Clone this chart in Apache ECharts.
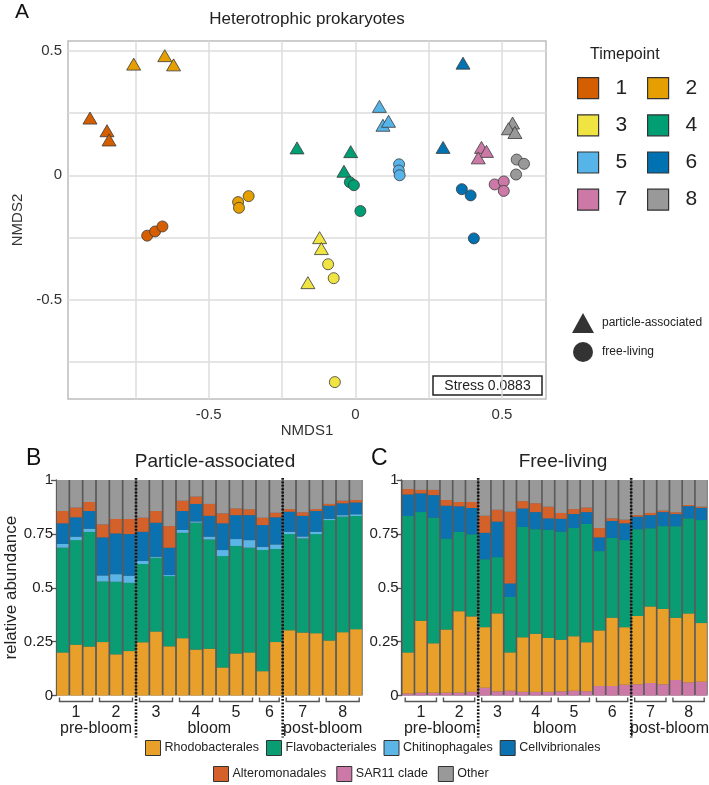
<!DOCTYPE html>
<html><head><meta charset="utf-8">
<script src="https://cdn.jsdelivr.net/npm/echarts@6/dist/echarts.min.js"></script>
<style>html,body{margin:0;padding:0;background:#fff}#c{width:709px;height:785px}</style>
</head><body><div id="c"></div>
<script>
const FONT = 'Liberation Sans, Arial, sans-serif';

// ---------- Panel A: NMDS ordination ----------
const timepoints = ['1','2','3','4','5','6','7','8'];
const tpColors = ['#D55E00','#E69F00','#F0E442','#009E73','#56B4E9','#0072B2','#CC79A7','#999999'];
const paTime = [1,1,1,2,2,2,3,3,3,4,4,4,5,5,5,6,6,7,7,7,8,8,8];
const paX = [-0.905,-0.847,-0.840, -0.650,-0.756,-0.620, -0.122,-0.116,-0.162, -0.199,-0.016,-0.039, 0.082,0.094,0.113, 0.367,0.299, 0.430,0.447,0.419, 0.536,0.522,0.544];
const paY = [0.230,0.179,0.142, 0.481,0.447,0.444, -0.251,-0.295,-0.432, 0.110,0.095,0.016, 0.277,0.201,0.217, 0.451,0.112, 0.112,0.096,0.070, 0.210,0.187,0.172];
const flTime = [1,1,1,2,2,2,3,3,3,4,4,4,5,5,5,6,6,6,7,7,7,8,8,8];
const flX = [-0.710,-0.683,-0.658, -0.364,-0.400,-0.397, -0.093,-0.074,-0.070, -0.019,-0.005,0.017, 0.149,0.148,0.151, 0.363,0.393,0.404, 0.475,0.506,0.506, 0.550,0.575,0.548];
const flY = [-0.243,-0.226,-0.206, -0.084,-0.108,-0.131, -0.358,-0.414,-0.832, -0.028,-0.040,-0.144, 0.044,0.019,0.000, -0.056,-0.081,-0.254, -0.037,-0.025,-0.063, 0.063,0.046,0.003];
const nmdsTicks = [-0.75,-0.5,-0.25,0,0.25,0.5];
const nmdsLabels = [-0.5,0,0.5];
const stressText = 'Stress 0.0883';

// ---------- Panels B, C: relative abundance ----------
const taxa = ['Rhodobacterales','Flavobacteriales','Chitinophagales','Cellvibrionales','Alteromonadales','SAR11 clade','Other'];
const taxaColors = ['#E8A02A','#0A9C72','#5BB5E6','#0B71B0','#D5612A','#CC79A7','#999999'];
const phases = ['pre-bloom','bloom','post-bloom'];
const phaseFirstGroup = [0,2,6];
const phaseLastGroup = [1,5,7];

const paSamples = ['1a','1b','1c','2a','2b','2c','3a','3b','3c','4a','4b','4c','5a','5b','5c','6a','6b','7a','7b','7c','8a','8b','8c'];
const paGroupSizes = [3,3,3,3,3,2,3,3];
const paRhodo   = [0.200,0.236,0.227,0.248,0.191,0.206,0.247,0.297,0.228,0.266,0.213,0.217,0.130,0.195,0.200,0.113,0.248,0.303,0.292,0.289,0.255,0.294,0.308];
const paFlavo   = [0.486,0.485,0.532,0.281,0.337,0.317,0.363,0.342,0.326,0.489,0.589,0.507,0.517,0.499,0.486,0.562,0.432,0.446,0.437,0.460,0.559,0.536,0.525];
const paChitino = [0.017,0.016,0.015,0.028,0.035,0.033,0.014,0.005,0.005,0.013,0.006,0.013,0.028,0.032,0.035,0.015,0.021,0.011,0.009,0.011,0.006,0.007,0.008];
const paCellvib = [0.096,0.090,0.082,0.177,0.189,0.193,0.136,0.158,0.127,0.088,0.081,0.097,0.124,0.111,0.116,0.101,0.126,0.093,0.096,0.096,0.061,0.055,0.055];
const paAltero  = [0.057,0.045,0.042,0.060,0.067,0.070,0.065,0.054,0.100,0.048,0.034,0.055,0.046,0.031,0.027,0.034,0.021,0.012,0.016,0.009,0.008,0.012,0.011];
const paOther   = [0.144,0.128,0.102,0.206,0.181,0.181,0.175,0.144,0.214,0.096,0.077,0.111,0.155,0.132,0.136,0.175,0.152,0.135,0.150,0.135,0.111,0.096,0.093];

const flSamples = ['1a','1b','1c','2a','2b','2c','3a','3b','3c','4a','4b','4c','5a','5b','5c','6a','6b','6c','7a','7b','7c','8a','8b','8c'];
const flGroupSizes = [3,3,3,3,3,3,3,3];
const flSar11   = [0.009,0.013,0.013,0.013,0.013,0.017,0.036,0.019,0.022,0.017,0.017,0.017,0.019,0.022,0.020,0.044,0.044,0.050,0.052,0.058,0.052,0.072,0.061,0.064];
const flRhodo   = [0.191,0.334,0.229,0.293,0.378,0.350,0.281,0.362,0.178,0.253,0.269,0.250,0.240,0.253,0.227,0.258,0.317,0.267,0.317,0.355,0.350,0.289,0.320,0.272];
const flFlavo   = [0.633,0.504,0.583,0.422,0.368,0.381,0.315,0.261,0.257,0.512,0.486,0.502,0.501,0.502,0.549,0.368,0.370,0.404,0.403,0.363,0.384,0.424,0.441,0.478];
const flCellvib = [0.100,0.087,0.105,0.153,0.119,0.122,0.123,0.165,0.063,0.086,0.079,0.053,0.060,0.065,0.055,0.064,0.079,0.078,0.058,0.061,0.065,0.057,0.057,0.057];
const flAltero  = [0.025,0.016,0.024,0.026,0.020,0.028,0.079,0.055,0.333,0.034,0.041,0.054,0.027,0.023,0.021,0.043,0.012,0.017,0.007,0.010,0.007,0.008,0.005,0.005];
const flOther   = [0.042,0.046,0.046,0.093,0.102,0.102,0.166,0.138,0.147,0.098,0.108,0.124,0.153,0.135,0.128,0.223,0.178,0.184,0.163,0.153,0.142,0.150,0.116,0.124];

// ---------- build ----------
const chart = echarts.init(document.getElementById('c'), null, {renderer:'canvas'});

const scatterSeries = timepoints.map((tp, i) => {
  const t = i + 1;
  const data = [];
  paTime.forEach((v, k) => { if (v === t) data.push({value:[paX[k], paY[k]], symbol:'triangle', symbolSize:[14,12]}); });
  flTime.forEach((v, k) => { if (v === t) data.push({value:[flX[k], flY[k]], symbol:'circle', symbolSize:11}); });
  return {
    name: tp, type:'scatter', xAxisIndex:0, yAxisIndex:0, data,
    itemStyle:{color: tpColors[i], borderColor:'#3a3a3a', borderWidth:0.8, opacity:1},
    z: 3
  };
});
const shapeSeries = [
  {name:'particle-associated', type:'scatter', xAxisIndex:0, yAxisIndex:0, data:[], symbol:'triangle', itemStyle:{color:'#000'}},
  {name:'free-living', type:'scatter', xAxisIndex:0, yAxisIndex:0, data:[], symbol:'circle', itemStyle:{color:'#000'}}
];

function barSeries(idx, stack, names, arrays) {
  return names.map((n, k) => ({
    name: n, type:'bar', stack, xAxisIndex: idx, yAxisIndex: idx,
    barCategoryGap:'13%', data: arrays[k],
    itemStyle:{color: taxaColors[taxa.indexOf(n)]}, z:2
  }));
}

function groupSpans(sizes) {
  let s = 0;
  return sizes.map(n => { const r = [s, s + n - 1]; s += n; return r; });
}

function annotSeries(idx, sizes) {
  const spans = groupSpans(sizes);
  const groupSeries = {
    type:'custom', xAxisIndex:idx, yAxisIndex:idx, silent:true, clip:false, z:5,
    data: spans.map(s => [s[0], 0]),
    renderItem(params, api) {
      const sp = spans[params.dataIndex];
      const bw = api.size([1, 0])[0];
      const p0 = api.coord([sp[0], 0]);
      const p1 = api.coord([sp[1], 0]);
      const x0 = p0[0] - bw / 2 + 3.5, x1 = p1[0] + bw / 2 - 3.5, y = p0[1] + 6;
      return {type:'group', children:[
        {type:'polyline', shape:{points:[[x0, y - 4],[x0, y],[x1, y],[x1, y - 4]]}, style:{stroke:'#555', lineWidth:1.4, fill:null}},
        {type:'text', x:(x0 + x1) / 2, y: y + 11, style:{text: timepoints[params.dataIndex], align:'center', verticalAlign:'middle', fontSize:16, fontFamily:FONT, fill:'#222'}}
      ]};
    }
  };
  const phaseSeries = {
    type:'custom', xAxisIndex:idx, yAxisIndex:idx, silent:true, clip:false, z:5,
    data: phases.map((p, k) => [spans[phaseFirstGroup[k]][0], 0]),
    renderItem(params, api) {
      const k = params.dataIndex;
      const bw = api.size([1, 0])[0];
      const a = api.coord([spans[phaseFirstGroup[k]][0], 0]);
      const b = api.coord([spans[phaseLastGroup[k]][1], 0]);
      const x0 = a[0] - bw / 2, x1 = b[0] + bw / 2;
      const children = [
        {type:'text', x:(x0 + x1) / 2, y: a[1] + 33, style:{text: phases[k], align:'center', verticalAlign:'middle', fontSize:16, fontFamily:FONT, fill:'#222'}}
      ];
      if (k > 0) {
        const top = api.coord([0, 1])[1];
        children.push({type:'line', shape:{x1:x0, y1:top - 2, x2:x0, y2:a[1] + 42}, style:{stroke:'#111', lineWidth:2.6, lineDash:[1.8,1.6]}});
      }
      return {type:'group', children};
    }
  };
  return [groupSeries, phaseSeries];
}

const barAxisY = (idx, name) => ({
  type:'value', gridIndex: idx, min:0, max:1, interval:0.25,
  axisLine:{show:true, lineStyle:{color:'#555', width:1.3}},
  axisTick:{show:true, length:5, lineStyle:{color:'#555', width:1.3}},
  axisLabel:{fontSize:15, color:'#222', fontFamily:FONT, margin:3},
  splitLine:{show:false},
  name: name, nameLocation:'middle', nameGap:36,
  nameTextStyle:{fontSize:17, color:'#222', fontFamily:FONT}
});
const barAxisX = (idx, cats) => ({
  type:'category', gridIndex: idx, data: cats,
  axisLine:{show:false}, axisTick:{show:false}, axisLabel:{show:false}, splitLine:{show:false}
});

const legendTextBottom = {fontSize:12.5, color:'#222', fontFamily:FONT, padding:[0,0,0,-1]};

const option = {
  animation:false,
  backgroundColor:'#fff',
  textStyle:{fontFamily:FONT},
  grid:[
    {left:68, top:41, width:478, height:358, show:true, borderColor:'#bdbdbd', borderWidth:1.5, backgroundColor:'rgba(0,0,0,0)'},
    {left:56, top:480, width:306.7, height:215.5, show:true, borderWidth:0, backgroundColor:'#5a5a5a'},
    {left:401.7, top:480, width:306, height:215.5, show:true, borderWidth:0, backgroundColor:'#5a5a5a'}
  ],
  xAxis:[
    {type:'value', gridIndex:0, min:-0.98, max:0.65,
      axisLine:{show:false}, axisTick:{show:false, customValues:nmdsTicks},
      axisLabel:{customValues:nmdsLabels, fontSize:15, color:'#333', fontFamily:FONT, margin:8},
      splitLine:{show:true, lineStyle:{color:'#dcdcdc', width:1.5}},
      name:'NMDS1', nameLocation:'middle', nameGap:22, nameTextStyle:{fontSize:15, color:'#333', fontFamily:FONT}},
    barAxisX(1, paSamples),
    barAxisX(2, flSamples)
  ],
  yAxis:[
    {type:'value', gridIndex:0, min:-0.9, max:0.54,
      axisLine:{show:false}, axisTick:{show:false, customValues:nmdsTicks},
      axisLabel:{customValues:nmdsLabels, fontSize:15, color:'#333', fontFamily:FONT, margin:6},
      splitLine:{show:true, lineStyle:{color:'#dcdcdc', width:1.5}},
      name:'NMDS2', nameLocation:'middle', nameGap:35, nameTextStyle:{fontSize:15, color:'#333', fontFamily:FONT}},
    barAxisY(1, 'relative abundance'),
    barAxisY(2, '')
  ],
  legend:[
    {data:['1','3','5','7'], orient:'vertical', left:572, top:72, itemWidth:21, itemHeight:21, itemGap:15,
      icon:'rect', itemStyle:{borderColor:'#333', borderWidth:1.2},
      textStyle:{fontSize:21, lineHeight:21, color:'#222', fontFamily:FONT, padding:[0,0,0,12]}, selectedMode:false},
    {data:['2','4','6','8'], orient:'vertical', left:642, top:72, itemWidth:21, itemHeight:21, itemGap:15,
      icon:'rect', itemStyle:{borderColor:'#333', borderWidth:1.2},
      textStyle:{fontSize:21, lineHeight:21, color:'#222', fontFamily:FONT, padding:[0,0,0,12]}, selectedMode:false},
    {data:[{name:'particle-associated', icon:'triangle'},{name:'free-living', icon:'circle'}],
      orient:'vertical', left:567, top:308, itemWidth:22, itemHeight:20, itemGap:9, selectedMode:false,
      textStyle:{fontSize:12, color:'#222', fontFamily:FONT, padding:[0,0,0,3]}},
    {data:taxa.slice(0,4), left:140, top:735, itemWidth:15, itemHeight:15, itemGap:7, selectedMode:false,
      icon:'rect', itemStyle:{borderColor:'#333', borderWidth:1}, textStyle:legendTextBottom},
    {data:taxa.slice(4), left:208, top:761, itemWidth:15, itemHeight:15, itemGap:10, selectedMode:false,
      icon:'rect', itemStyle:{borderColor:'#333', borderWidth:1}, textStyle:legendTextBottom}
  ],
  graphic:[
    {type:'text', x:15, y:2, style:{text:'A', fontSize:21, fontFamily:FONT, fill:'#111'}},
    {type:'text', x:307, y:19, style:{text:'Heterotrophic prokaryotes', align:'center', verticalAlign:'middle', fontSize:17, fontFamily:FONT, fill:'#222'}},
    {type:'text', x:590, y:55, style:{text:'Timepoint', align:'left', verticalAlign:'middle', fontSize:16, fontFamily:FONT, fill:'#222'}},
    {type:'group', x:433, y:376, z:100, children:[
      {type:'rect', shape:{x:0, y:0, width:109, height:19}, style:{fill:'#fff', stroke:'#222', lineWidth:1.5}},
      {type:'text', x:54.5, y:10, style:{text:stressText, align:'center', verticalAlign:'middle', fontSize:14, fontFamily:FONT, fill:'#222'}}
    ]},
    {type:'text', x:26, y:447, style:{text:'B', fontSize:23, fontFamily:FONT, fill:'#111'}},
    {type:'text', x:371, y:447, style:{text:'C', fontSize:23, fontFamily:FONT, fill:'#111'}},
    {type:'text', x:215, y:462, style:{text:'Particle-associated', align:'center', verticalAlign:'middle', fontSize:19, fontFamily:FONT, fill:'#222'}},
    {type:'text', x:563, y:462, style:{text:'Free-living', align:'center', verticalAlign:'middle', fontSize:19, fontFamily:FONT, fill:'#222'}}
  ],
  series:[
    ...scatterSeries,
    ...shapeSeries,
    ...barSeries(1, 'pa', ['Rhodobacterales','Flavobacteriales','Chitinophagales','Cellvibrionales','Alteromonadales','Other'],
                 [paRhodo, paFlavo, paChitino, paCellvib, paAltero, paOther]),
    ...barSeries(2, 'fl', ['SAR11 clade','Rhodobacterales','Flavobacteriales','Cellvibrionales','Alteromonadales','Other'],
                 [flSar11, flRhodo, flFlavo, flCellvib, flAltero, flOther]),
    ...annotSeries(1, paGroupSizes),
    ...annotSeries(2, flGroupSizes)
  ]
};
chart.setOption(option);
</script>
</body></html>
